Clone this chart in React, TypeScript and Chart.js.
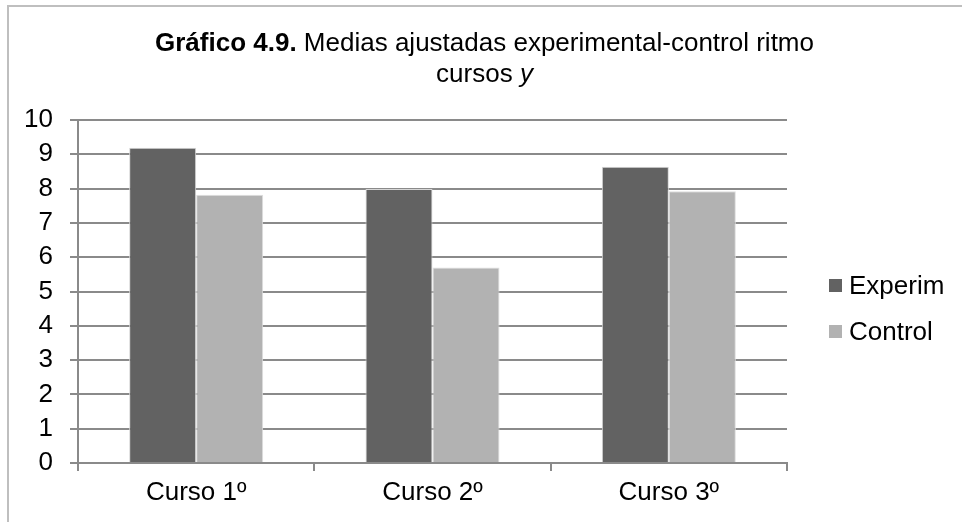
import React, { useEffect, useRef } from "react";
import { Chart, registerables } from "chart.js";

Chart.register(...registerables);

const categories = ["Curso 1º", "Curso 2º", "Curso 3º"];
const seriesNames = ["Experim", "Control"];
const experimValues = [9.19, 7.99, 8.64];
const controlValues = [7.82, 5.7, 7.92];
const seriesColors = ["#626262", "#b2b2b2"];
const titleBold = "Gráfico 4.9.";
const titleRest = " Medias ajustadas experimental-control ritmo";
const titleLine2 = "cursos ";
const titleLine2Italic = "y";

const FONT = '"Liberation Sans", Arial, sans-serif';

const framePlugin = {
  id: "frame",
  beforeDraw(chart: any) {
    const ctx = chart.ctx;
    ctx.save();
    ctx.fillStyle = "#ffffff";
    ctx.fillRect(0, 0, chart.width, chart.height);
    ctx.fillStyle = "#bfbfbf";
    ctx.fillRect(0, 0, chart.width, 2);
    ctx.fillRect(0, 0, 2, chart.height);
    ctx.restore();
  },
};

const titlePlugin = {
  id: "mixedTitle",
  afterDraw(chart: any) {
    const ctx = chart.ctx;
    const cx = chart.width / 2;
    ctx.save();
    ctx.fillStyle = "#000000";
    ctx.textBaseline = "alphabetic";
    ctx.textAlign = "left";
    const bold = `bold 26px ${FONT}`;
    const normal = `26px ${FONT}`;
    const italic = `italic 26px ${FONT}`;
    ctx.font = bold;
    const wb = ctx.measureText(titleBold).width;
    ctx.font = normal;
    const wn = ctx.measureText(titleRest).width;
    let x = cx - (wb + wn) / 2;
    ctx.font = bold;
    ctx.fillText(titleBold, x, 46);
    ctx.font = normal;
    ctx.fillText(titleRest, x + wb, 46);
    ctx.font = normal;
    const w2 = ctx.measureText(titleLine2).width;
    ctx.font = italic;
    const w3 = ctx.measureText(titleLine2Italic).width;
    x = cx - (w2 + w3) / 2;
    ctx.font = normal;
    ctx.fillText(titleLine2, x, 77);
    ctx.font = italic;
    ctx.fillText(titleLine2Italic, x + w2, 77);
    ctx.restore();
  },
};

const legendPlugin = {
  id: "sideLegend",
  afterDraw(chart: any) {
    const ctx = chart.ctx;
    ctx.save();
    ctx.font = `26px ${FONT}`;
    ctx.textBaseline = "middle";
    ctx.textAlign = "left";
    chart.data.datasets.forEach((ds: any, i: number) => {
      const top = 274 + i * 46;
      ctx.fillStyle = ds.backgroundColor;
      ctx.fillRect(822, top, 13, 13);
      ctx.fillStyle = "#000000";
      ctx.fillText(ds.label, 842, top + 7.5);
    });
    ctx.restore();
  },
};

export default function App() {
  const ref = useRef<HTMLCanvasElement | null>(null);

  useEffect(() => {
    if (!ref.current) return;
    const chart = new Chart(ref.current, {
      type: "bar",
      data: {
        labels: categories,
        datasets: [
          {
            label: seriesNames[0],
            data: experimValues,
            backgroundColor: seriesColors[0],
            borderColor: "#d6d6d6",
            borderWidth: 1,
            categoryPercentage: 0.567,
            barPercentage: 1,
          },
          {
            label: seriesNames[1],
            data: controlValues,
            backgroundColor: seriesColors[1],
            borderColor: "#dedede",
            borderWidth: 1,
            categoryPercentage: 0.567,
            barPercentage: 1,
          },
        ],
      },
      options: {
        animation: false,
        responsive: true,
        maintainAspectRatio: false,
        layout: { padding: { top: 115, right: 175, left: 0, bottom: 0 } },
        plugins: {
          legend: { display: false },
          title: { display: false },
          tooltip: { enabled: false },
        },
        scales: {
          x: {
            offset: true,
            afterFit: (scale: any) => {
              scale.height = 59;
            },
            grid: {
              offset: true,
              drawOnChartArea: false,
              drawTicks: true,
              tickLength: 8,
              color: "#8a8a8a",
              lineWidth: 2,
            },
            border: { display: true, color: "#8a8a8a", width: 2 },
            ticks: {
              color: "#000000",
              font: { family: FONT, size: 26 },
              padding: 6,
            },
          },
          y: {
            min: 0,
            max: 10,
            afterFit: (scale: any) => {
              scale.width = 71;
            },
            grid: {
              drawOnChartArea: true,
              drawTicks: true,
              tickLength: 8,
              color: "#8a8a8a",
              lineWidth: 2,
            },
            border: { display: true, color: "#8a8a8a", width: 2 },
            ticks: {
              stepSize: 1,
              color: "#000000",
              font: { family: FONT, size: 26 },
              padding: 17,
            },
          },
        },
      },
      plugins: [framePlugin, titlePlugin, legendPlugin],
    });
    return () => chart.destroy();
  }, []);

  return (
    <div style={{ position: "fixed", left: 7, top: 5, width: 955, height: 517 }}>
      <canvas ref={ref} />
    </div>
  );
}
